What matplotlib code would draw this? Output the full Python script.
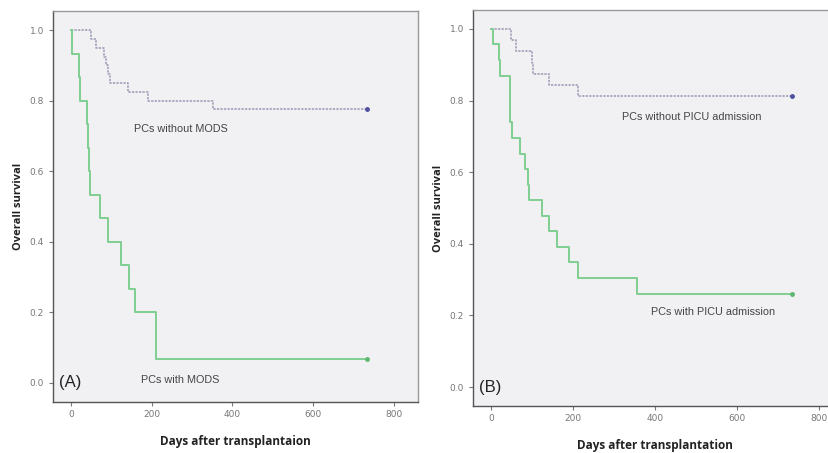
import matplotlib
matplotlib.use("Agg")
import matplotlib.pyplot as plt

# Panel A data
a_without_days = [0, 50, 62, 82, 88, 92, 96, 142, 191, 352, 733]
a_without_surv = [1.0, 0.975, 0.95, 0.925, 0.9, 0.875, 0.85, 0.825, 0.8, 0.775, 0.775]
a_with_days = [0, 3, 20, 22, 41, 43, 45, 48, 73, 93, 124, 143, 159, 211, 733]
a_with_surv = [1.0, 0.933, 0.867, 0.8, 0.733, 0.667, 0.6, 0.533, 0.467, 0.4, 0.333,
               0.267, 0.2, 0.067, 0.067]

# Panel B data
b_without_days = [0, 48, 60, 99, 101, 140, 213, 733]
b_without_surv = [1.0, 0.969, 0.938, 0.906, 0.875, 0.844, 0.8125, 0.8125]
b_with_days = [0, 4, 20, 22, 45, 46, 47, 50, 71, 83, 91, 93, 124, 140, 160, 191, 211, 355, 733]
b_with_surv = [1.0, 0.957, 0.913, 0.870, 0.826, 0.783, 0.739, 0.696, 0.652, 0.609, 0.565,
               0.522, 0.478, 0.435, 0.391, 0.348, 0.304, 0.261, 0.261]

x_ticks = [0, 200, 400, 600, 800]
y_ticks = [0.0, 0.2, 0.4, 0.6, 0.8, 1.0]
y_ticklabels = ["0.0", "0.2", "0.4", "0.6", "0.8", "1.0"]

GREEN = "#7fcf92"
GRAY = "#9a9ab4"
BG = "#f1f1f3"

fig = plt.figure(figsize=(8.29, 4.53), dpi=100)
fig.patch.set_facecolor("white")

def style(ax, xlim, ylim, xlabel):
    ax.set_facecolor(BG)
    ax.set_xlim(*xlim)
    ax.set_ylim(*ylim)
    ax.set_xticks(x_ticks)
    ax.set_xticklabels([str(t) for t in x_ticks])
    ax.set_yticks(y_ticks)
    ax.set_yticklabels(y_ticklabels)
    ax.tick_params(axis="both", labelsize=6.5, colors="#777777", length=3, width=0.8)
    ax.tick_params(axis="x", pad=3)
    for s in ax.spines.values():
        s.set_color("#555555")
        s.set_linewidth(1.0)
    ax.spines["right"].set_color("#999999")
    ax.spines["top"].set_color("#999999")
    ax.set_ylabel("Overall survival", fontsize=8, fontweight="bold", family="Open Sans",
                  color="#222222")
    ax.set_xlabel(xlabel, fontsize=8.5, fontweight="bold", family="Open Sans",
                  color="#222222", labelpad=11)

def draw(ax, days_w, surv_w, days_o, surv_o):
    ax.step(days_o, surv_o, where="post", color=GRAY, lw=1.1, linestyle=(0, (1.5, 0.8)))
    ax.step(days_w, surv_w, where="post", color=GREEN, lw=1.4)
    ax.plot([days_o[-1]], [surv_o[-1]], marker="o", ms=2.5, color="#5050a0", ls="none")
    ax.plot([days_w[-1]], [surv_w[-1]], marker="o", ms=2.5, color="#5cb870", ls="none")

axA = fig.add_axes([53/829, 51/453, 365/829, 391/453])
style(axA, (-44, 860), (-0.054, 1.054), "Days after transplantaion")
draw(axA, a_with_days, a_with_surv, a_without_days, a_without_surv)
axA.text(272, 0.72, "PCs without MODS", fontsize=7.8, color="#444444", ha="center", va="center",
         family="Liberation Sans")
axA.text(270, 0.008, "PCs with MODS", fontsize=7.8, color="#444444", ha="center", va="center",
         family="Liberation Sans")
axA.text(-30, 0.0, "(A)", fontsize=12, color="#222222", ha="left", va="center",
         family="Liberation Sans")
axA.yaxis.set_label_coords(-0.08, 0.5)

axB = fig.add_axes([473/829, 47/453, 364/829, 396/453])
style(axB, (-44, 843), (-0.053, 1.053), "Days after transplantation")
draw(axB, b_with_days, b_with_surv, b_without_days, b_without_surv)
axB.text(488, 0.755, "PCs without PICU admission", fontsize=7.8, color="#444444", ha="center",
         va="center", family="Liberation Sans")
axB.text(541, 0.21, "PCs with PICU admission", fontsize=7.8, color="#444444", ha="center",
         va="center", family="Liberation Sans")
axB.text(-30, 0.0, "(B)", fontsize=12, color="#222222", ha="left", va="center",
         family="Liberation Sans")
axB.yaxis.set_label_coords(-0.08, 0.5)

fig.savefig("out.png", dpi=100, facecolor="white")
